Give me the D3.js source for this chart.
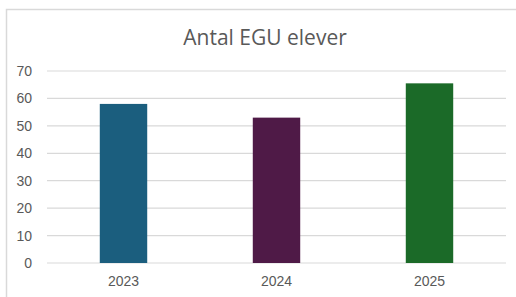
<!DOCTYPE html>
<html lang="sv">
<head>
  <meta charset="UTF-8">
  <title>Antal EGU elever</title>
  <script src="https://d3js.org/d3.v7.min.js"></script>
  <style>
    body { margin: 0; padding: 0; background: #fff; }
    svg { display: block; font-family: "Open Sans", "Noto Sans", sans-serif; }
  </style>
</head>
<body>
  <div id="chart"></div>
  <script>
    // Data
    const years = ["2023", "2024", "2025"];
    const students = [58, 53, 65.5];
    const barColors = ["#1b5e7e", "#4f1a47", "#1b6a28"];
    const yTicks = [0, 10, 20, 30, 40, 50, 60, 70];

    const width = 516, height = 297;
    const margin = { left: 47, right: 10, top: 71, bottom: 34 };

    const svg = d3.select("#chart").append("svg")
      .attr("width", width)
      .attr("height", height);

    // chart frame
    svg.append("rect")
      .attr("x", 6.5).attr("y", 9.5)
      .attr("width", 530).attr("height", 300)
      .attr("fill", "#fff")
      .attr("stroke", "#d9d9d9")
      .attr("stroke-width", 1.5);

    const x = d3.scaleBand()
      .domain(years)
      .range([margin.left, width - margin.right])
      .paddingInner(0.69)
      .paddingOuter(0.345);

    const y = d3.scaleLinear()
      .domain([0, 70])
      .range([height - margin.bottom, margin.top]);

    // gridlines
    svg.append("g")
      .selectAll("line")
      .data(yTicks)
      .join("line")
      .attr("x1", margin.left)
      .attr("x2", width - margin.right)
      .attr("y1", d => y(d))
      .attr("y2", d => y(d))
      .attr("stroke", "#d9d9d9")
      .attr("stroke-width", 1.2);

    // y labels
    const yAxis = d3.axisLeft(y).tickValues(yTicks).tickSize(0).tickPadding(0);
    svg.append("g")
      .attr("transform", `translate(${margin.left - 15},0)`)
      .call(yAxis)
      .call(g => g.select(".domain").remove())
      .selectAll("text")
      .attr("fill", "#595959")
      .attr("font-size", 14);

    // bars
    svg.append("g")
      .selectAll("rect")
      .data(years)
      .join("rect")
      .attr("x", d => x(d))
      .attr("width", x.bandwidth())
      .attr("y", (d, i) => y(students[i]))
      .attr("height", (d, i) => y(0) - y(students[i]))
      .attr("fill", (d, i) => barColors[i]);

    // x labels
    const xAxis = d3.axisBottom(x).tickSize(0).tickPadding(0);
    svg.append("g")
      .attr("transform", `translate(0,${y(0) + 13})`)
      .call(xAxis)
      .call(g => g.select(".domain").remove())
      .selectAll("text")
      .attr("fill", "#595959")
      .attr("font-size", 14);

    // title
    svg.append("text")
      .attr("x", 265)
      .attr("y", 45)
      .attr("text-anchor", "middle")
      .attr("fill", "#595959")
      .attr("font-size", 21)
      .text("Antal EGU elever");
  </script>
</body>
</html>
